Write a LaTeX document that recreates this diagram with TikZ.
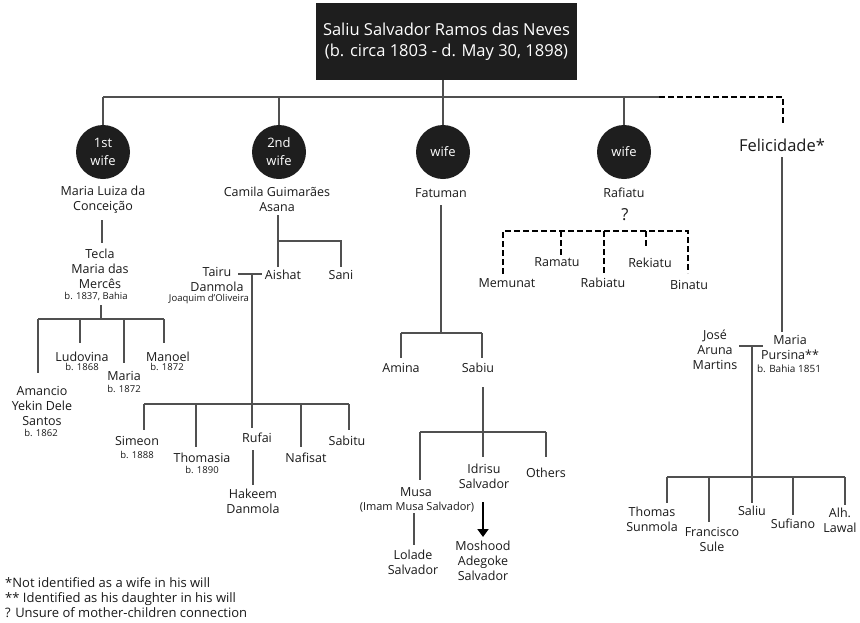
\documentclass[tikz,border=0pt]{standalone}
\usepackage{fontspec}
\setmainfont{Open Sans}
\usetikzlibrary{arrows.meta}
\definecolor{ink}{HTML}{1A1A1A}
\definecolor{lncol}{HTML}{505050}
\definecolor{dark}{HTML}{1E1E1E}
\begin{document}
\begin{tikzpicture}[x=1pt,y=-1pt,
  ln/.style={draw=lncol,line width=1.2pt},
  dsh/.style={draw=black,line width=2.2pt,dash pattern=on 6pt off 3pt},
  wifec/.style={circle,fill=dark,minimum size=54pt,inner sep=0pt,text=white,align=center,font=\fontsize{13}{18}\selectfont},
  nm/.style={text=ink,align=center,inner sep=1pt,font=\fontsize{12.5}{15}\selectfont},
  bn/.style={text=ink,inner sep=1pt,font=\fontsize{9.5}{11}\selectfont},
  big/.style={text=ink,inner sep=1pt,font=\fontsize{16.5}{19}\selectfont},
  arr/.style={draw=black,line width=2.2pt,-{Triangle[width=11pt,length=8pt]}}
]
\useasboundingbox (0,0) rectangle (860,622);
\fill[white] (0,0) rectangle (860,622);

% root
\node[fill=dark,text=white,minimum width=261pt,minimum height=77pt,align=center,
  font=\fontsize{16.5}{21}\selectfont,inner sep=0pt] (root) at (446.5,41.5)
  {Saliu Salvador Ramos das Neves\\(b. circa 1803 - d. May 30, 1898)};

% wives
\node[wifec] (w1) at (103,152) {1st\\wife};
\node[wifec] (w2) at (279,152) {2nd\\wife};
\node[wifec] (w3) at (443,152) {wife};
\node[wifec] (w4) at (624,152) {wife};
\node[nm] (n1) at (103,199.5) {Maria Luiza da\\Conceição};
\node[nm] (n2) at (277,199.5) {Camila Guimarães\\Asana};
\node[nm] (n3) at (441,193) {Fatuman};
\node[nm] (n4) at (624,193) {Rafiatu};
\node[big] (fel) at (782,145) {Felicidade*};

\coordinate (bar) at (443,97);
\coordinate (bR) at (659,97);
\coordinate (feltop) at (783,124);
\draw[ln] (w3 |- root.south) -- (w3 |- bar);
\draw[ln] (w1 |- bar) -- (bR);
\draw[ln] (w1 |- bar) -- (w1.north);
\draw[ln] (w2 |- bar) -- (w2.north);
\draw[ln] (w3 |- bar) -- (w3.north);
\draw[ln] (w4 |- bar) -- (w4.north);
\draw[dsh] (bR) -| (feltop);

% ---- 1st wife
\node[nm] (tecla) at (100,268.5) {Tecla\\Maria das\\Mercês};
\node[bn] (teclab) at (96,296) {b. 1837, Bahia};
\coordinate (t1a) at (102,220);
\coordinate (t1b) at (102,243);
\draw[ln] (t1a) -- (t1b);
\coordinate (t2a) at (101,305);
\coordinate (t2b) at (101,319);
\coordinate (b1L) at (38,319);
\coordinate (b1R) at (164,319);
\draw[ln] (t2a) -- (t2b);
\draw[ln] (b1L) -- (b1R);
\node[nm] (lud) at (82,357) {Ludovina};
\node[bn] (ludb) at (82,367) {b. 1868};
\node[nm] (mar) at (124,376) {Maria};
\node[bn] (marb) at (124,389) {b. 1872};
\node[nm] (man) at (168,357) {Manoel};
\node[bn] (manb) at (167,367) {b. 1872};
\node[nm] (ama) at (42,405.5) {Amancio\\Yekin Dele\\Santos};
\node[bn] (amab) at (41,433) {b. 1862};
\coordinate (e1) at (38,373);
\coordinate (e2) at (80,343);
\coordinate (e3) at (124,363);
\coordinate (e4) at (164,343);
\draw[ln] (b1L) -- (e1);
\draw[ln] (e2 |- b1L) -- (e2);
\draw[ln] (e3 |- b1L) -- (e3);
\draw[ln] (b1R) -- (e4);

% ---- 2nd wife
\node[nm] (aish) at (283,275) {Aishat};
\node[nm] (sani) at (341,275) {Sani};
\node[nm] (tairu) at (217,279) {Tairu\\Danmola};
\node[bn] (tairub) at (209,299) {Joaquim d'Oliveira};
\coordinate (c2a) at (278,215);
\coordinate (c2b) at (278,267);
\coordinate (c2m) at (278,241);
\coordinate (c2s) at (341,267);
\draw[ln] (c2a) -- (c2b);
\draw[ln] (c2m) -| (c2s);
\coordinate (mL) at (238,274);
\coordinate (mR) at (262,274);
\draw[ln] (mL) -- (mR);
\coordinate (v2a) at (252,274);
\coordinate (v2b) at (252,404);
\coordinate (b2L) at (144,404);
\coordinate (b2R) at (349,404);
\draw[ln] (v2a) -- (v2b);
\draw[ln] (b2L) -- (b2R);
\node[nm] (sim) at (137,441) {Simeon};
\node[bn] (simb) at (137,455) {b. 1888};
\node[nm] (tho) at (202,458) {Thomasia};
\node[bn] (thob) at (202,470) {b. 1890};
\node[nm] (ruf) at (257,438) {Rufai};
\node[nm] (naf) at (306,458) {Nafisat};
\node[nm] (sab) at (347,441) {Sabitu};
\coordinate (f1) at (144,430);
\coordinate (f2) at (196,447);
\coordinate (f3) at (252,428);
\coordinate (f4) at (301,447);
\coordinate (f5) at (349,430);
\draw[ln] (b2L) -- (f1);
\draw[ln] (f2 |- b2L) -- (f2);
\draw[ln] (v2b) -- (f3);
\draw[ln] (f4 |- b2L) -- (f4);
\draw[ln] (b2R) -- (f5);
\node[nm] (hak) at (253,501.5) {Hakeem\\Danmola};
\coordinate (r1) at (253,450);
\coordinate (r2) at (253,485);
\draw[ln] (r1) -- (r2);

% ---- Fatuman
\coordinate (fa) at (441,205);
\coordinate (fb) at (441,333);
\coordinate (fL) at (401,333);
\coordinate (fR) at (482,333);
\draw[ln] (fa) -- (fb);
\draw[ln] (fL) -- (fR);
\node[nm] (ami) at (401,368) {Amina};
\node[nm] (sabiu) at (478,368) {Sabiu};
\coordinate (g1) at (401,358);
\coordinate (g2) at (482,358);
\draw[ln] (fL) -- (g1);
\draw[ln] (fR) -- (g2);
\coordinate (sa) at (483,387);
\coordinate (sb) at (483,432);
\coordinate (sL) at (420,432);
\coordinate (sR) at (546,432);
\draw[ln] (sa) -- (sb);
\draw[ln] (sL) -- (sR);
\node[nm] (musa) at (416,492) {Musa};
\node[text=ink,inner sep=1pt,font=\fontsize{11}{13}\selectfont] (musab) at (417,507) {(Imam Musa Salvador)};
\node[nm] (idr) at (484,476.5) {Idrisu\\Salvador};
\node[nm] (oth) at (546,473) {Others};
\coordinate (h1) at (420,480);
\coordinate (h2) at (483,457);
\coordinate (h3) at (546,457);
\draw[ln] (sL) -- (h1);
\draw[ln] (sb) -- (h2);
\draw[ln] (sR) -- (h3);
\node[nm] (lol) at (413,562.5) {Lolade\\Salvador};
\coordinate (l1) at (414,513);
\coordinate (l2) at (414,545);
\draw[ln] (l1) -- (l2);
\node[nm] (mos) at (483,561) {Moshood\\Adegoke\\Salvador};
\coordinate (a1) at (483,502);
\coordinate (a2) at (483,537);
\draw[arr] (a1) -- (a2);

% ---- Rafiatu
\node[big] (q) at (625,215) {?};
\coordinate (dL) at (503,231);
\coordinate (dR) at (688,231);
\node[nm] (mem) at (507,283) {Memunat};
\node[nm] (ram) at (557,262) {Ramatu};
\node[nm] (rab) at (603,283) {Rabiatu};
\node[nm] (rek) at (650,263) {Rekiatu};
\node[nm] (bin) at (689,285) {Binatu};
\coordinate (k1) at (503,274);
\coordinate (k2) at (561,255);
\coordinate (k3) at (604,273);
\coordinate (k4) at (646,248);
\coordinate (k5) at (688,273);
\draw[dsh] (k1) -- (dL) -- (dR) -- (k5);
\draw[dsh] (k2 |- dL) -- (k2);
\draw[dsh] (k3 |- dL) -- (k3);
\draw[dsh] (k4 |- dL) -- (k4);

% ---- Felicidade
\coordinate (p1) at (782,157);
\coordinate (p2) at (782,332);
\draw[ln] (p1) -- (p2);
\node[nm] (mp) at (790,347.5) {Maria\\Pursina**};
\node[bn,font=\fontsize{10}{12}\selectfont] (mpb) at (789,369) {b. Bahia 1851};
\node[nm] (jose) at (715,350) {José\\Aruna\\Martins};
\coordinate (jL) at (739,346);
\coordinate (jR) at (763,346);
\draw[ln] (jL) -- (jR);
\coordinate (ja) at (752,346);
\coordinate (jb) at (752,477);
\coordinate (jBL) at (667,477);
\coordinate (jBR) at (845,477);
\draw[ln] (ja) -- (jb);
\draw[ln] (jBL) -- (jBR);
\node[nm] (thm) at (652,519) {Thomas\\Sunmola};
\node[nm] (fra) at (712,539.5) {Francisco\\Sule};
\node[nm] (sal) at (752,511) {Saliu};
\node[nm] (suf) at (793,524) {Sufiano};
\node[nm] (alh) at (840,520.5) {Alh.\\Lawal};
\coordinate (q1) at (667,503);
\coordinate (q2) at (709,522);
\coordinate (q3) at (752,503);
\coordinate (q4) at (793,515);
\coordinate (q5) at (845,505);
\draw[ln] (jBL) -- (q1);
\draw[ln] (q2 |- jBL) -- (q2);
\draw[ln] (jb) -- (q3);
\draw[ln] (q4 |- jBL) -- (q4);
\draw[ln] (jBR) -- (q5);

% ---- notes
\node[nm,align=left,anchor=west,font=\fontsize{13}{15}\selectfont] (notes) at (4,598)
  {*Not identified as a wife in his will\\** Identified as his daughter in his will\\? Unsure of mother-children connection};
\end{tikzpicture}
\end{document}
